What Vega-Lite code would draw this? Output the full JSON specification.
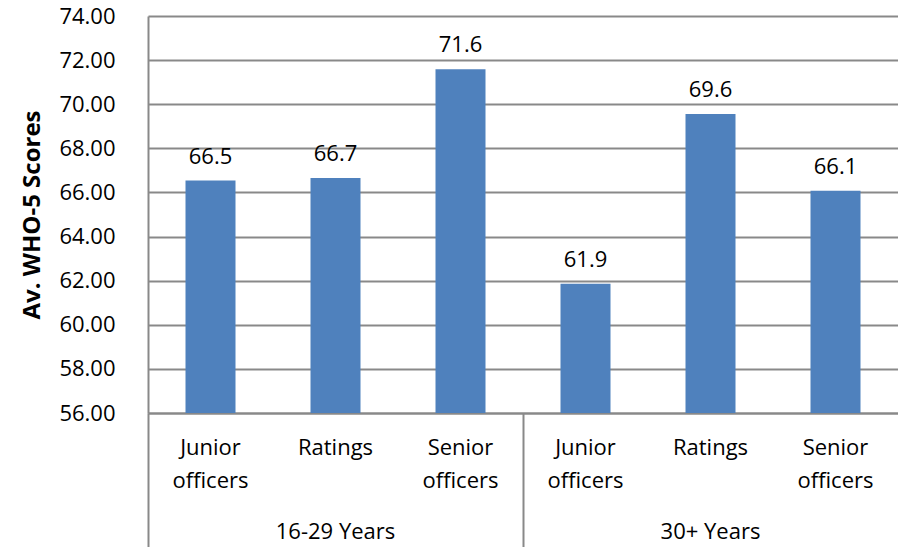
{
  "$schema": "https://vega.github.io/schema/vega-lite/v6.json",
  "width": 750,
  "height": 397,
  "autosize": {"type": "none"},
  "padding": {"left": 148, "top": 16, "right": 0, "bottom": 134},
  "background": "white",
  "data": {
    "values": [
      {"key": "16-29 Years|Junior officers", "group": "16-29 Years", "role": "Junior officers", "score": 66.54},
      {"key": "16-29 Years|Ratings", "group": "16-29 Years", "role": "Ratings", "score": 66.66},
      {"key": "16-29 Years|Senior officers", "group": "16-29 Years", "role": "Senior officers", "score": 71.58},
      {"key": "30+ Years|Junior officers", "group": "30+ Years", "role": "Junior officers", "score": 61.86},
      {"key": "30+ Years|Ratings", "group": "30+ Years", "role": "Ratings", "score": 69.56},
      {"key": "30+ Years|Senior officers", "group": "30+ Years", "role": "Senior officers", "score": 66.08}
    ]
  },
  "config": {
    "view": {"stroke": null},
    "font": "Open Sans"
  },
  "encoding": {
    "y": {
      "field": "score",
      "type": "quantitative",
      "scale": {"domain": [56, 74], "zero": false, "nice": false},
      "axis": {
        "title": "Av. WHO-5 Scores",
        "titleFont": "Open Sans",
        "titleFontSize": 24,
        "titleFontWeight": "bold",
        "titleColor": "#000000",
        "titlePadding": 14,
        "values": [56, 58, 60, 62, 64, 66, 68, 70, 72, 74],
        "format": ".2f",
        "labelFont": "Open Sans",
        "labelFontSize": 22,
        "labelColor": "#000000",
        "labelPadding": 33,
        "ticks": false,
        "domainColor": "#898989",
        "domainWidth": 2,
        "gridColor": "#898989",
        "gridWidth": 2
      }
    }
  },
  "layer": [
    {
      "mark": {"type": "bar", "color": "#4F81BD", "clip": true, "width": {"band": 0.4}},
      "encoding": {
        "x": {
          "field": "key",
          "type": "nominal",
          "sort": null,
          "scale": {"paddingInner": 0, "paddingOuter": 0},
          "axis": {
            "orient": "bottom",
            "title": null,
            "labelAngle": 0,
            "labelFont": "Open Sans",
            "labelFontSize": 22,
            "labelColor": "#000000",
            "labelLineHeight": 33,
            "labelBaseline": "top",
            "labelPadding": -110,
            "labelExpr": "indexof(datum.value, 'Ratings') >= 0 ? 'Ratings' : (indexof(datum.value, 'Junior') >= 0 ? ['Junior', 'officers'] : ['Senior', 'officers'])",
            "bandPosition": 0,
            "tickSize": 134,
            "tickWidth": 2,
            "tickColor": "#898989",
            "tickOpacity": {"condition": {"test": "indexof(datum.value, 'Junior') >= 0", "value": 1}, "value": 0},
            "domainColor": "#898989",
            "domainWidth": 2,
            "grid": false,
            "labelOverlap": false
          }
        }
      }
    },
    {
      "mark": {"type": "text", "fontSize": 22, "font": "Open Sans", "color": "#000000", "baseline": "alphabetic", "dy": -17},
      "encoding": {
        "x": {
          "field": "key",
          "type": "nominal",
          "sort": null,
          "axis": {
            "orient": "bottom",
            "title": null,
            "labelAngle": 0,
            "labelFont": "Open Sans",
            "labelFontSize": 22,
            "labelColor": "#000000",
            "labelBaseline": "top",
            "labelPadding": 108,
            "labelExpr": "indexof(datum.value, 'Ratings') >= 0 ? (indexof(datum.value, '16-29') >= 0 ? '16-29 Years' : '30+ Years') : ''",
            "ticks": false,
            "domain": false,
            "grid": false,
            "labelOverlap": false
          }
        },
        "text": {"field": "score", "type": "quantitative", "format": ".1f"}
      }
    }
  ],
  "resolve": {"axis": {"x": "independent"}}
}
